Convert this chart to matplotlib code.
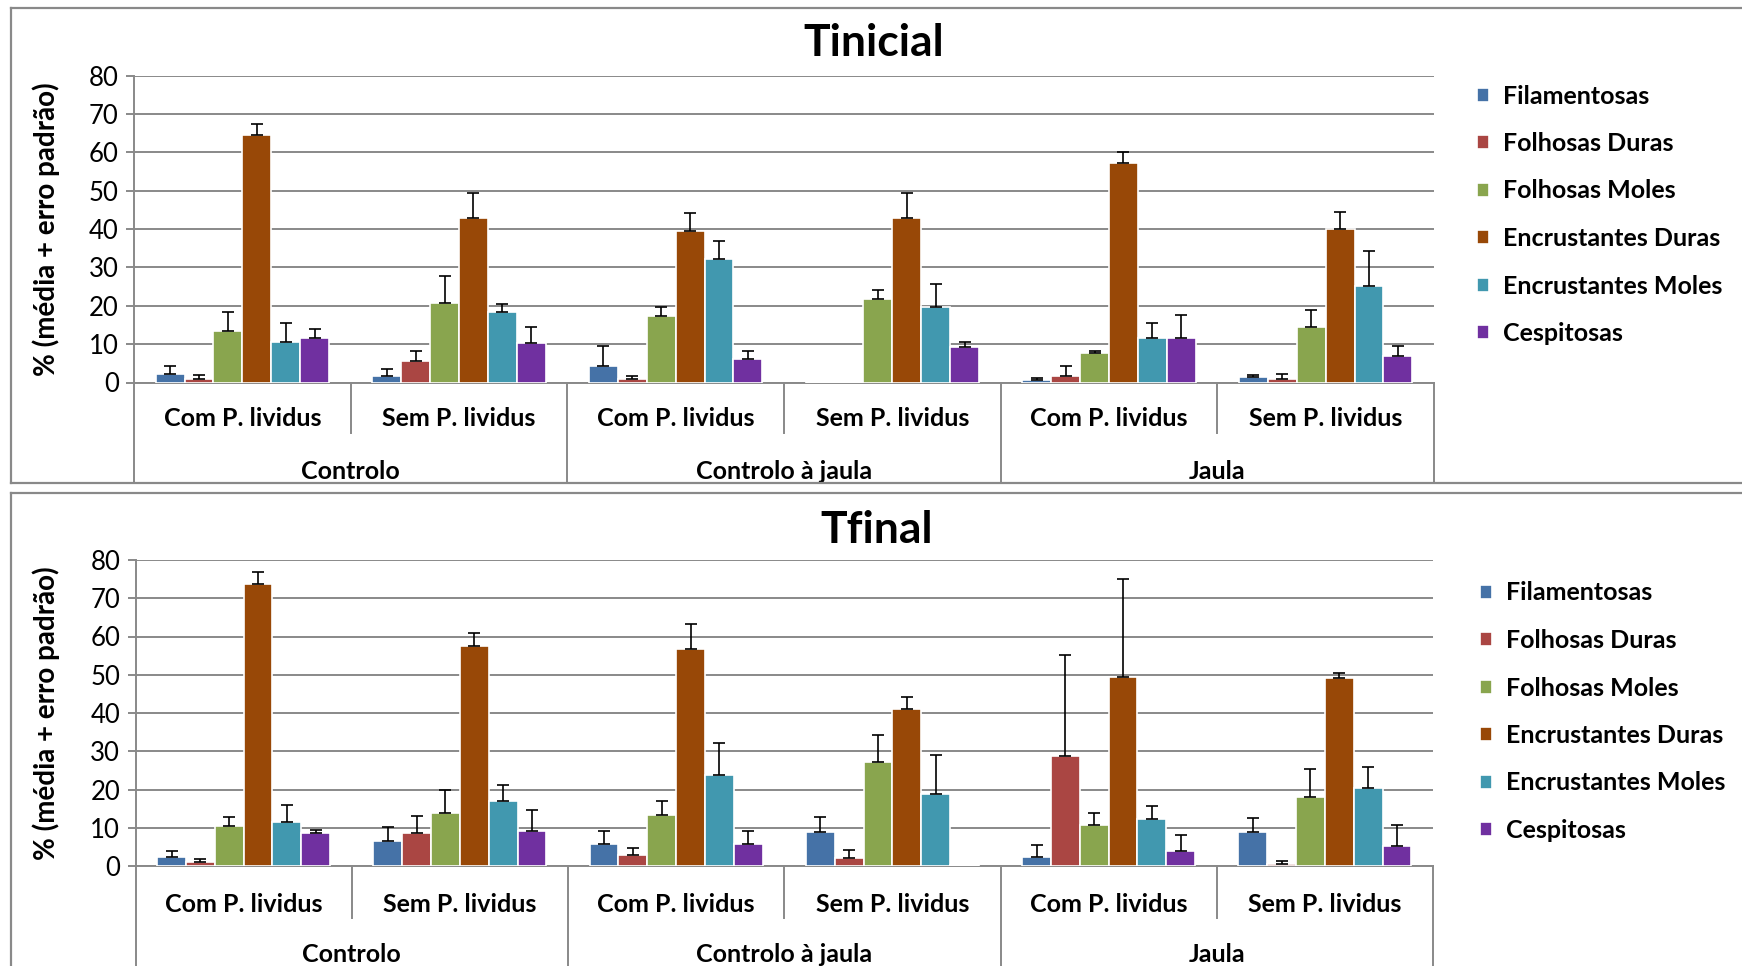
import numpy as np
import matplotlib.pyplot as plt
from matplotlib.lines import Line2D
from matplotlib.transforms import blended_transform_factory

plt.rcParams['font.family'] = ['Lato', 'DejaVu Sans']

W, H = 1742, 966

grupos = ['Controlo', 'Controlo à jaula', 'Jaula']
tratamentos = ['Com P. lividus', 'Sem P. lividus']
tipos = ['Filamentosas', 'Folhosas Duras', 'Folhosas Moles',
         'Encrustantes Duras', 'Encrustantes Moles', 'Cespitosas']
cores = ['#4572A7', '#AA4643', '#89A54E', '#984807', '#4198AF', '#7030A0']

# médias (%) por tipo; colunas: Controlo Com/Sem, Controlo à jaula Com/Sem, Jaula Com/Sem
media_inicial = [
    [2.2, 1.8, 4.4, 0.2, 0.6, 1.4],
    [0.9, 5.6, 0.9, 0.1, 1.8, 1.0],
    [13.5, 20.6, 17.2, 21.8, 7.6, 14.4],
    [64.5, 42.8, 39.6, 42.8, 57.2, 39.9],
    [10.5, 18.5, 32.2, 19.8, 11.5, 25.2],
    [11.5, 10.3, 6.2, 9.2, 11.5, 6.8],
]
erro_inicial = [
    [2.0, 1.8, 5.0, 0.0, 0.7, 0.6],
    [1.1, 2.7, 0.7, 0.0, 2.4, 1.3],
    [5.0, 7.2, 2.4, 2.4, 0.5, 4.5],
    [2.9, 6.5, 4.5, 6.5, 2.9, 4.6],
    [4.9, 1.9, 4.8, 5.9, 4.1, 9.1],
    [2.4, 4.2, 2.1, 1.3, 6.0, 2.6],
]
media_final = [
    [2.4, 6.5, 5.8, 8.8, 2.4, 8.9],
    [1.1, 8.5, 2.8, 2.2, 28.8, 0.5],
    [10.5, 13.8, 13.4, 27.1, 10.8, 18.1],
    [73.6, 57.5, 56.7, 41.1, 49.5, 49.2],
    [11.5, 17.1, 23.8, 18.8, 12.4, 20.4],
    [8.5, 9.2, 5.8, 0.2, 3.8, 5.1],
]
erro_final = [
    [1.6, 3.6, 3.4, 3.9, 3.0, 3.6],
    [0.6, 4.6, 2.0, 2.0, 26.4, 0.9],
    [2.2, 6.1, 3.7, 7.1, 3.0, 7.2],
    [3.2, 3.5, 6.5, 3.1, 25.6, 1.2],
    [4.4, 4.1, 8.3, 10.2, 3.3, 5.6],
    [0.9, 5.4, 3.4, 0.0, 4.3, 5.7],
]

cinza = '#898989'


def fy(py):
    return 1 - py / H


def fx(px):
    return px / W


fig = plt.figure(figsize=(W / 100, H / 100), dpi=100)


def painel(titulo, medias, erros, x0, x1, y80, y0, y_sub, y_sub_lbl, y_grp_lbl, y_fim,
           frame_top, frame_bot, tit_xy, leg_xy):
    ax = fig.add_axes([fx(x0), fy(y0), fx(x1) - fx(x0), fy(y80) - fy(y0)])
    n = len(grupos) * len(tratamentos)
    xs = np.arange(n)
    w = 0.8 / len(tipos)
    handles = []
    for j, tipo in enumerate(tipos):
        pos = xs + (j - 2.5) * w
        b = ax.bar(pos, medias[j], width=w, color=cores[j], edgecolor='white',
                   linewidth=1.2, zorder=3, label=tipo)
        handles.append(b)
        e = np.array(erros[j])
        m = e > 0
        ax.errorbar(pos[m], np.array(medias[j])[m], yerr=[np.zeros(m.sum()), e[m]],
                    fmt='none', ecolor='black', elinewidth=1.2, capsize=4,
                    capthick=1.2, zorder=4)
    ax.set_xlim(-0.5, n - 0.5)
    ax.set_ylim(0, 80)
    ax.set_yticks(range(0, 81, 10))
    ax.set_xticks([])
    ax.grid(axis='y', color=cinza, linewidth=1.4, zorder=0)
    ax.set_axisbelow(True)
    for s in ['top', 'right']:
        ax.spines[s].set_visible(False)
    for s in ['left', 'bottom']:
        ax.spines[s].set_color(cinza)
        ax.spines[s].set_linewidth(1.4)
    ax.tick_params(axis='y', length=6, width=1.4, color=cinza, labelsize=18.5, pad=5)
    ax.set_ylabel('% (média + erro padrão)', fontsize=20, fontweight='bold')
    ax.yaxis.set_label_coords(fx(60), 0.5, transform=blended_transform_factory(
        fig.transFigure, ax.transAxes))
    fig.text(fx(tit_xy[0]), fy(tit_xy[1]), titulo, ha='center', va='center',
             fontsize=32, fontweight='bold')

    # eixo de categorias em dois níveis
    tr = blended_transform_factory(ax.transData, fig.transFigure)
    for k in range(n + 1):
        xb = k - 0.5
        yb = y_fim if k % 2 == 0 else y_sub
        ax.add_line(Line2D([xb, xb], [fy(y0), fy(yb)], transform=tr, color=cinza,
                           linewidth=1.4, clip_on=False))
    for k in range(n):
        ax.text(k, fy(y_sub_lbl), tratamentos[k % 2], transform=tr, ha='center',
                va='center', fontsize=18, fontweight='bold')
    for g, nome in enumerate(grupos):
        ax.text(2 * g + 0.5, fy(y_grp_lbl), nome, transform=tr, ha='center',
                va='center', fontsize=18, fontweight='bold')

    ax.legend(handles=handles, loc='upper left', bbox_to_anchor=(fx(leg_xy[0]), fy(leg_xy[1])),
              bbox_transform=fig.transFigure, frameon=False,
              prop={'weight': 'bold', 'size': 18}, handlelength=0.5,
              handleheight=0.5, handletextpad=0.55, labelspacing=0.98)

    # moldura do gráfico
    fr = dict(color=cinza, linewidth=1.6, transform=fig.transFigure)
    fig.add_artist(Line2D([fx(11), 1], [fy(frame_top), fy(frame_top)], **fr))
    fig.add_artist(Line2D([fx(11), fx(11)], [fy(frame_top), fy(frame_bot)], **fr))
    if frame_bot < H:
        fig.add_artist(Line2D([fx(11), 1], [fy(frame_bot), fy(frame_bot)], **fr))
    return ax


painel('Tinicial', media_inicial, erro_inicial, 134, 1434, 75.5, 382.5,
       433, 418.5, 471.5, 483, 8, 483, (874, 43), (1454, 62))
painel('Tfinal', media_final, erro_final, 135.5, 1433, 560, 866,
       918, 904, 955, 966, 493, 970, (877, 530), (1457, 559))

fig.savefig('out.png', dpi=100)
